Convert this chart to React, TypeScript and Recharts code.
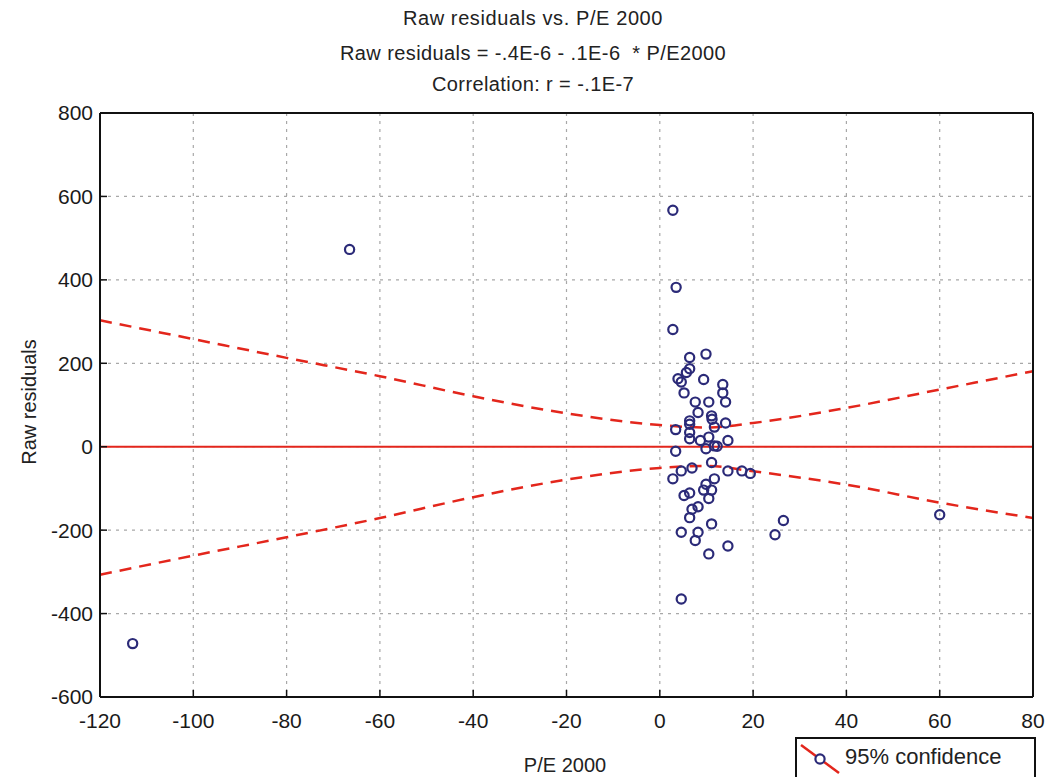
import { ComposedChart, Scatter, Line, XAxis, YAxis, CartesianGrid } from 'recharts';

// P/E 2000 (x) vs raw residuals (y)
const peValues = [
    -113, -66.5, 60, 24.7, 26.5, 17.6, 19.4,
    2.8, 3.5, 2.8, 6.4, 9.9, 6.4, 5.7, 3.9, 4.6, 9.4,
    13.5, 13.5, 5.2, 14.1, 7.6, 10.5, 8.2, 11.1, 6.4, 6.4,
    11.2, 11.7, 14.1, 3.4, 6.4, 6.4, 8.7, 10.5, 14.6, 9.9,
    11.7, 12.3, 3.4, 11.1, 6.9, 4.6, 14.6, 2.8, 11.7, 9.9,
    11.1, 9.4, 10.5, 6.4, 5.2, 8.2, 6.9, 6.4, 11.1, 4.6,
    8.2, 7.6, 14.6, 10.5, 4.6,
];
const residuals = [
    -472, 473, -163, -211, -177, -58, -64,
    567, 382, 281, 214, 222, 187, 178, 163, 155, 161,
    149, 129, 129, 107, 107, 107, 82, 74, 62, 54,
    66, 47, 57, 41, 34, 19, 15, 23, 15, -5,
    2, 1, -11, -38, -51, -58, -58, -77, -77, -90,
    -104, -104, -124, -111, -117, -144, -150, -170, -185, -205,
    -205, -225, -238, -257, -365,
];

// regression line and 95% confidence band, read at these x positions
const bandX = [-120, -100, -80, -60, -40, -20, 0, 10, 20, 40, 60, 80];
const bandUpper = [303, 258, 213, 169, 121, 80, 52, 46, 57, 93, 137, 181];
const bandLower = [-307, -261, -217, -171, -121, -79, -51, -46, -59, -91, -134, -171];
const fitX = [-120, 80];
const fitY = [0, 0];

const xTicks = [-120, -100, -80, -60, -40, -20, 0, 20, 40, 60, 80];
const yTicks = [-600, -400, -200, 0, 200, 400, 600, 800];

const points = peValues.map((x, i) => ({ x, y: residuals[i] }));
const upperData = bandX.map((x, i) => ({ x, y: bandUpper[i] }));
const lowerData = bandX.map((x, i) => ({ x, y: bandLower[i] }));
const fitData = fitX.map((x, i) => ({ x, y: fitY[i] }));

const FONT = '"Liberation Sans", Arial, sans-serif';
const RED = '#e3261c';
const NAVY = '#2b2a78';
const tickStyle = { fill: '#1a1a1a', fontSize: 21, fontFamily: FONT };

const Ring = (p: any) => (
    <circle cx={p.cx} cy={p.cy} r={4.6} fill="none" stroke={NAVY} strokeWidth={2.2} />
);

const titleLine = (text: string, top: number, spacing: number) => (
    <div style={{
        position: 'absolute', left: 0, top, width: 1066, textAlign: 'center',
        fontFamily: FONT, fontSize: 20, color: '#222', letterSpacing: spacing, whiteSpace: 'pre',
    }}>{text}</div>
);

export default function App() {
    return (
        <div style={{ position: 'absolute', left: 0, top: 0, width: 1049, height: 777, background: '#fff', overflow: 'hidden' }}>
            {titleLine('Raw residuals vs. P/E 2000', 7, 0.6)}
            {titleLine('Raw residuals = -.4E-6 - .1E-6  * P/E2000', 42, 0.4)}
            {titleLine('Correlation: r = -.1E-7', 73, 0.4)}

            <ComposedChart width={1049} height={777} margin={{ top: 112, right: 0, bottom: 50, left: 0 }}>
                <CartesianGrid stroke="#a8a8a8" strokeDasharray="3 5" strokeWidth={1.2} />
                <XAxis
                    xAxisId="top" orientation="top" type="number" domain={[-120, 80]} ticks={xTicks}
                    height={1} tick={false} tickSize={-7} axisLine={{ stroke: '#111', strokeWidth: 2 }}
                    tickLine={{ stroke: '#111', strokeWidth: 1.5 }}
                />
                <XAxis
                    dataKey="x" type="number" domain={[-120, 80]} ticks={xTicks} height={30}
                    tick={tickStyle} tickSize={-7} tickMargin={23}
                    axisLine={{ stroke: '#111', strokeWidth: 2 }} tickLine={{ stroke: '#111', strokeWidth: 1.5 }}
                    label={{
                        content: () => (
                            <text x={565} y={772} textAnchor="middle" fontFamily={FONT} fontSize={20} fill="#222">P/E 2000</text>
                        ),
                    }}
                />
                <YAxis
                    dataKey="y" type="number" domain={[-600, 800]} ticks={yTicks} width={100}
                    tick={tickStyle} tickSize={-7} tickMargin={14} interval={0}
                    axisLine={{ stroke: '#111', strokeWidth: 2 }} tickLine={{ stroke: '#111', strokeWidth: 1.5 }}
                    label={{
                        content: () => (
                            <text x={36} y={402} transform="rotate(-90 36 402)" textAnchor="middle"
                                fontFamily={FONT} fontSize={20} fill="#222">Raw residuals</text>
                        ),
                    }}
                />
                <YAxis
                    yAxisId="right" orientation="right" type="number" domain={[-600, 800]} ticks={yTicks}
                    width={16} tick={false} tickSize={-7} axisLine={{ stroke: '#111', strokeWidth: 2 }}
                    tickLine={{ stroke: '#111', strokeWidth: 1.5 }}
                />
                <Line data={upperData} dataKey="y" type="monotone" stroke={RED} strokeWidth={2.5}
                    strokeDasharray="12 8" dot={false} isAnimationActive={false} />
                <Line data={lowerData} dataKey="y" type="monotone" stroke={RED} strokeWidth={2.5}
                    strokeDasharray="12 8" dot={false} isAnimationActive={false} />
                <Line data={fitData} dataKey="y" type="linear" stroke={RED} strokeWidth={2}
                    dot={false} isAnimationActive={false} />
                <Scatter data={points} dataKey="y" shape={Ring} isAnimationActive={false} />
            </ComposedChart>

            <div style={{
                position: 'absolute', left: 795, top: 737, width: 241, height: 50, boxSizing: 'border-box',
                border: '2px solid #111', background: '#fff', fontFamily: FONT, fontSize: 22, color: '#222',
            }}>
                <svg width={44} height={36} style={{ position: 'absolute', left: 2, top: 2 }}>
                    <line x1={2} y1={4} x2={40} y2={32} stroke={RED} strokeWidth={2.5} />
                    <circle cx={21} cy={18} r={4.6} fill="#fff" stroke={NAVY} strokeWidth={2.2} />
                </svg>
                <span style={{ position: 'absolute', left: 48, top: 5 }}>95% confidence</span>
            </div>
        </div>
    );
}
